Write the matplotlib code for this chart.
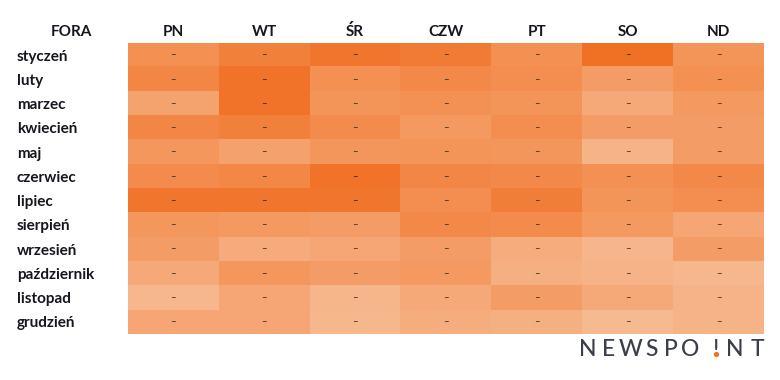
import matplotlib.pyplot as plt
import numpy as np
from matplotlib.colors import LinearSegmentedColormap
from matplotlib.lines import Line2D

plt.rcParams["font.family"] = ["Lato", "DejaVu Sans"]

miesiace = ["styczeń", "luty", "marzec", "kwiecień", "maj", "czerwiec", "lipiec",
            "sierpień", "wrzesień", "październik", "listopad", "grudzień"]
dni = ["PN", "WT", "ŚR", "CZW", "PT", "SO", "ND"]

# natezenie koloru (0 = najjasniejszy, 100 = najciemniejszy)
natezenie = [
    [60, 80, 92, 85, 60, 100, 55],
    [72, 95, 60, 68, 62, 45, 60],
    [38, 95, 55, 58, 55, 32, 48],
    [72, 80, 65, 48, 62, 45, 45],
    [50, 40, 52, 55, 52, 22, 45],
    [65, 70, 95, 72, 68, 58, 68],
    [92, 92, 92, 62, 82, 55, 62],
    [50, 48, 45, 68, 65, 48, 35],
    [45, 30, 35, 45, 28, 20, 45],
    [32, 50, 45, 48, 25, 22, 18],
    [18, 35, 20, 32, 45, 32, 22],
    [35, 35, 18, 28, 25, 15, 22],
]
etykieta = "–"

dane = np.array(natezenie, dtype=float)
cmap = LinearSegmentedColormap.from_list("nws", ["#F8C9A8", "#F4985E", "#F07024"])
tekst_kolor = "#16161f"
rozmiar = 11
waga = "bold"

fig = plt.figure(figsize=(7.8, 3.8), dpi=100)
ax = fig.add_axes([128 / 780, 46 / 380, 636 / 780, 291 / 380])

ax.imshow(dane, cmap=cmap, vmin=0, vmax=100, aspect="auto", interpolation="nearest")

for i in range(len(miesiace)):
    for j in range(len(dni)):
        ax.text(j, i, etykieta, ha="center", va="center", fontsize=7,
                color="#2a2a2a")

ax.set_xticks(range(len(dni)))
ax.set_xticklabels(dni, fontsize=rozmiar, fontweight=waga, color=tekst_kolor)
ax.xaxis.tick_top()
ax.set_yticks(range(len(miesiace)))
ax.set_yticklabels(miesiace, fontsize=rozmiar, fontweight=waga, color=tekst_kolor,
                   ha="left")
ax.tick_params(axis="x", length=0, pad=3)
ax.tick_params(axis="y", length=0, pad=80)
for s in ax.spines.values():
    s.set_visible(False)

ax.annotate("FORA", xy=(-57 / 636, 1), xycoords="axes fraction",
            xytext=(0, 3), textcoords="offset points",
            ha="center", va="bottom", fontsize=rozmiar, fontweight=waga,
            color=tekst_kolor)

# logo
logo_kolor = "#3b3e4b"
litery = ["N", "E", "W", "S", "P", "O", "!", "N", "T"]
pozycje = [588, 609, 631, 652, 671, 690, 716, 735, 757]
for lit, px in zip(litery, pozycje):
    fig.text(px / 780, 1 - 356 / 380, lit, ha="center", va="baseline",
             fontsize=16.5, fontweight="medium", color=logo_kolor)
fig.add_artist(Line2D([716 / 780], [1 - 354.3 / 380], transform=fig.transFigure,
                      marker="o", ms=3.8, linestyle="none",
                      color="#F07024", markeredgewidth=0, zorder=5))

fig.savefig("out.png", dpi=100)
